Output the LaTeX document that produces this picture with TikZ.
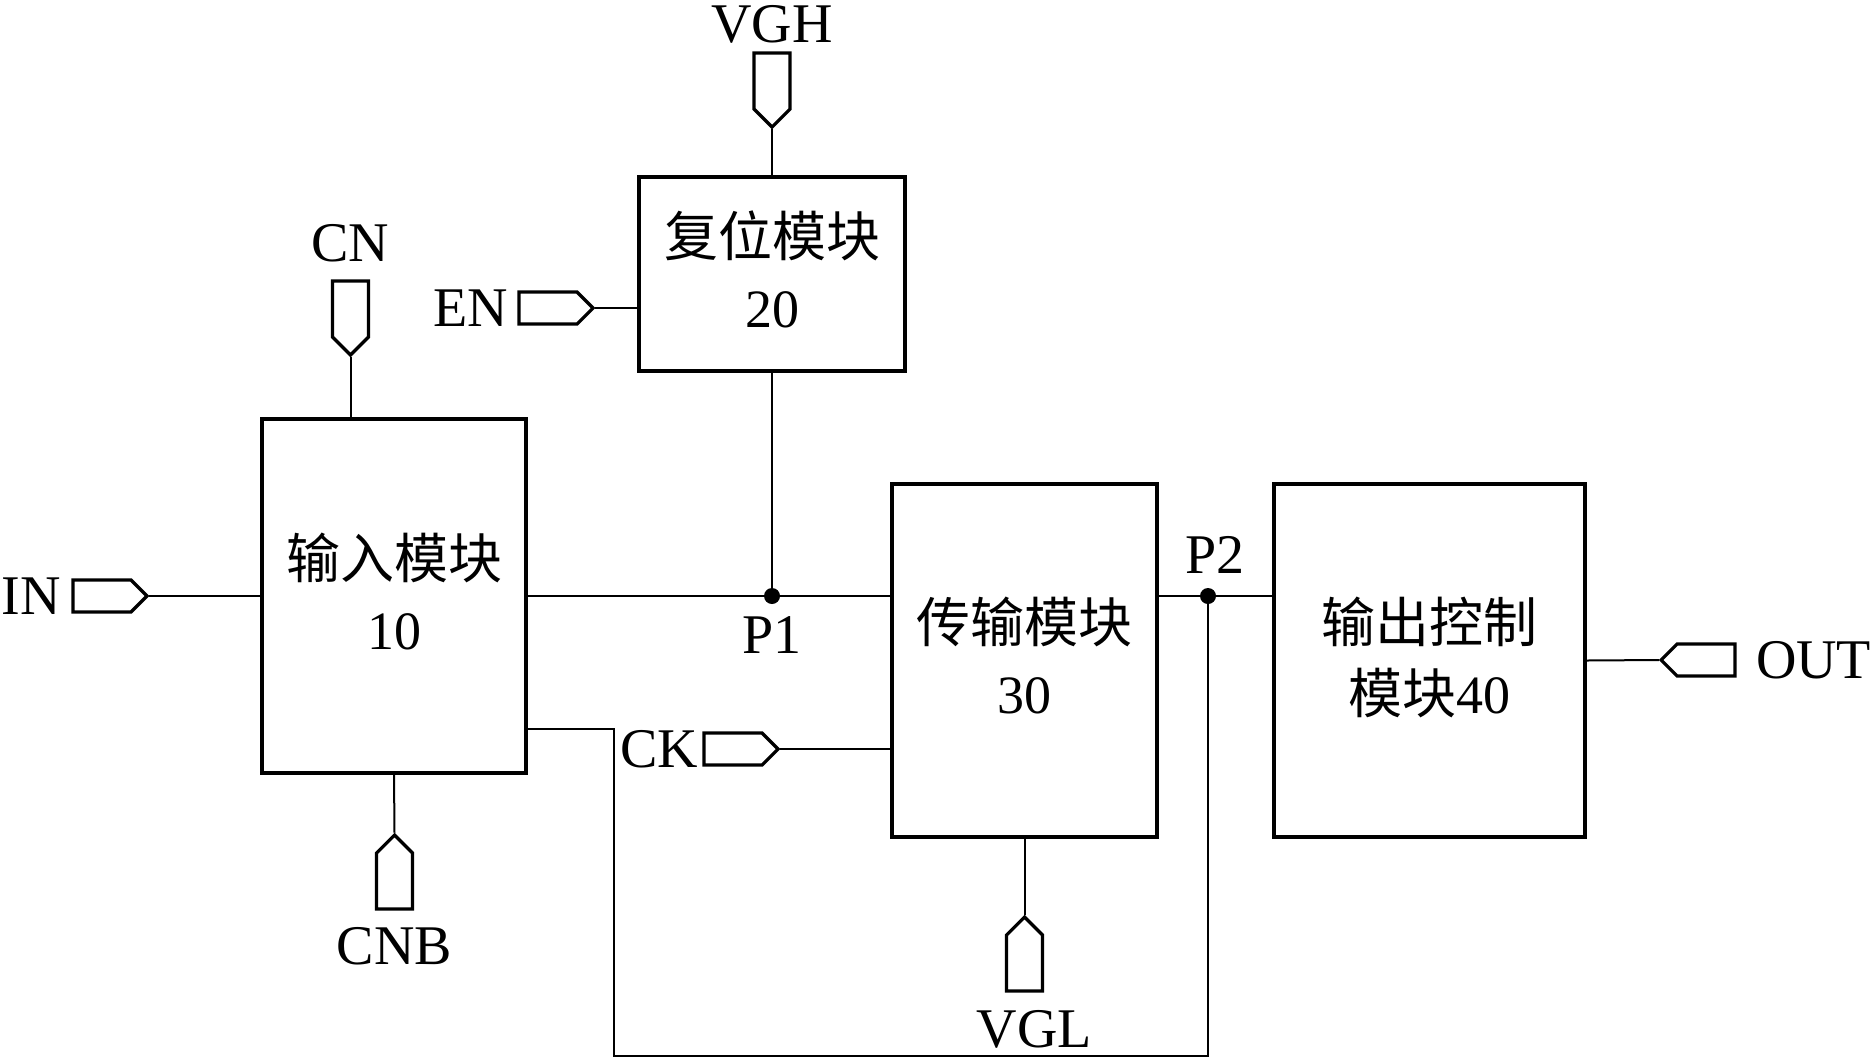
\documentclass[tikz,border=0pt]{standalone}
\usepackage{fontspec}
\setmainfont{Liberation Serif}
\newfontfamily\cjk{Noto Sans CJK SC}
\usetikzlibrary{positioning,shapes.symbols}

\begin{document}
\begin{tikzpicture}[x=0.5pt,y=-0.5pt,
  module/.style={draw,line width=2pt,inner sep=0,align=center,text depth=5pt,font=\fontsize{27}{35.5}\selectfont},
  port/.style={signal,draw,line width=1.6pt,inner sep=0,minimum width=37pt,minimum height=16pt},
  vport/.style={signal,draw,line width=1.6pt,inner sep=0,minimum width=18pt,minimum height=28pt},
  sig/.style={inner sep=0,font=\fontsize{28}{28}\selectfont},
  wire/.style={line width=1pt}]
\useasboundingbox (0,0) rectangle (1872,1060);

% modules
\node[module,minimum width=132pt,minimum height=177pt] (b10) at (394,596) {{\cjk 输入模块}\\10};
\node[module,minimum width=133pt,minimum height=97pt] (b20) at (772,274) {{\cjk 复位模块}\\20};
\node[module,minimum width=132.5pt,minimum height=176.5pt] (b30) at (1024.5,660.5) {{\cjk 传输模块}\\30};
\node[module,minimum width=155.5pt,minimum height=176.5pt] (b40) at (1429.5,660.5) {{\cjk 输出控制}\\{\cjk 模块}40};

% ports
\node[port,signal to=east] (inp) at (102,596) {};
\node[port,signal to=east] (en) at (548,308) {};
\node[port,signal to=east] (ck) at (733,749) {};
\node[port,signal to=west] (out) at (1706,660) {};
\node[vport,signal to=south] (vgh) at (772,81) {};
\node[vport,signal to=south] (cn) at (350.5,309) {};
\node[vport,signal to=north] (cnb) at (394.5,881) {};
\node[vport,signal to=north] (vgl) at (1024.5,963) {};

\node[sig,left=5pt of inp] (inl) {IN};
\node[sig,left=4.5pt of en] (enl) {EN};
\node[sig,left=2pt of ck] (ckl) {CK};
\node[sig,right=9.5pt of out] (outl) {OUT};
\node[sig,above=4pt of vgh] (vghl) {VGH};
\node[sig,above=8.5pt of cn] (cnl) {CN};
\node[sig,below=8pt of cnb] (cnbl) {CNB};
\node[sig,below=8.5pt of vgl,xshift=5pt] (vgll) {VGL};

% nets
\coordinate (p1) at (b20.south |- b10.east);
\coordinate (p2) at (1208,596);
\coordinate (rb) at (614,1056);
\path (b10.east) ++(0,133) coordinate (r1);

\draw[wire] (inp.east) -- (b10.west);
\draw[wire] (en.east) -- (en.east -| b20.west);
\draw[wire] (ck.east) -- (ck.east -| b30.west);
\draw[wire] (b40.east) -- (out.west);
\draw[wire] (vgh.south) -- (b20.north);
\draw[wire] (cn.south) -- (cn.south |- b10.north);
\draw[wire] (b10.south) -- (cnb.north);
\draw[wire] (b30.south) -- (vgl.north);
\draw[wire] (b10.east) -- (b10.east -| b30.west);
\draw[wire] (b20.south) -- (p1);
\draw[wire] (p2 -| b30.east) -- (p2 -| b40.west);
\draw[wire] (r1) -| (rb) -| (p2);

\fill (p1) circle (4pt);
\fill (p2) circle (4pt);
\node[sig,below=10pt of p1] (p1l) {P1};
\node[sig,above=11pt of p2,xshift=3.5pt] (p2l) {P2};
\end{tikzpicture}
\end{document}
